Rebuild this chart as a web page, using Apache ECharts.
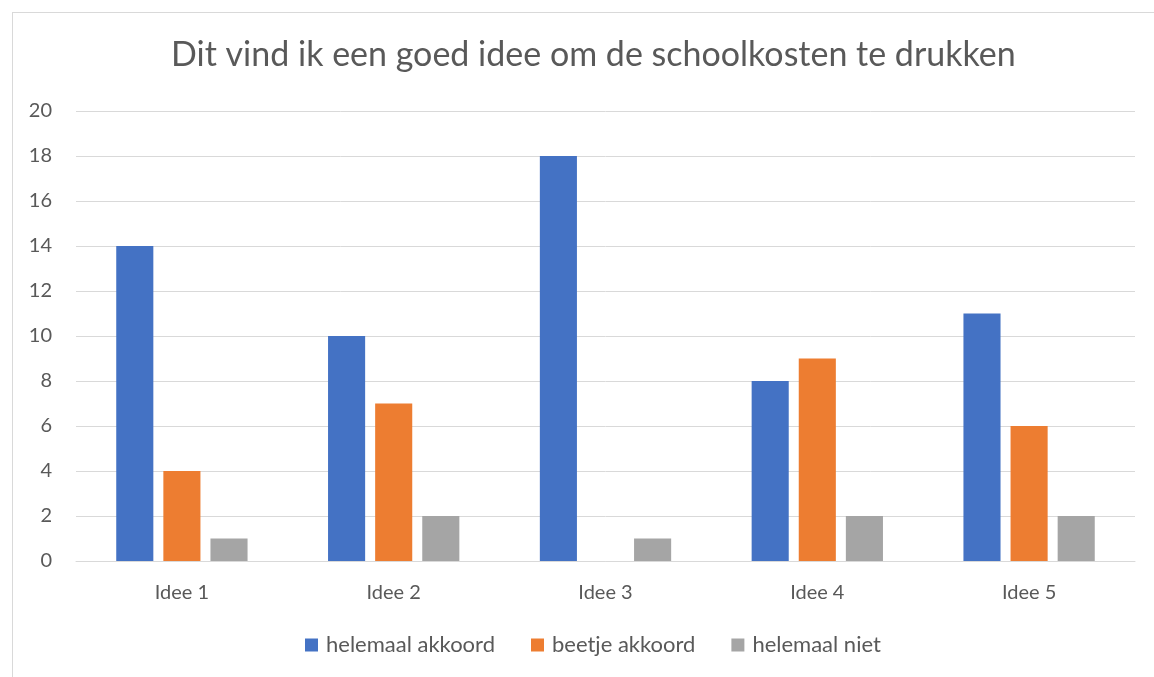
<!DOCTYPE html>
<html>
<head>
<meta charset="utf-8">
<script src="https://cdn.jsdelivr.net/npm/echarts@6/dist/echarts.min.js"></script>
<style>
  html, body { margin: 0; padding: 0; background: #fff; }
  #frame { position: absolute; left: 12px; top: 12px; width: 1160px; height: 700px; border-left: 1px solid #d9d9d9; border-top: 1px solid #d9d9d9; }
  #chart { position: absolute; left: 0; top: 0; width: 1154px; height: 677px; }
</style>
</head>
<body>
<div id="frame"></div>
<div id="chart"></div>
<script>
const categories = ["Idee 1", "Idee 2", "Idee 3", "Idee 4", "Idee 5"];
const helemaalAkkoord = [14, 10, 18, 8, 11];
const beetjeAkkoord = [4, 7, 0, 9, 6];
const helemaalNiet = [1, 2, 1, 2, 2];

const font = "Lato, 'Noto Sans', sans-serif";
const textColor = "#595959";

const myChart = echarts.init(document.getElementById("chart"));

const makeSeries = (name, data, color) => ({
  name: name,
  type: "bar",
  data: data,
  barGap: "27%",
  barCategoryGap: "38%",
  itemStyle: { color: color },
});

myChart.setOption({
  animation: false,
  title: {
    text: "Dit vind ik een goed idee om de schoolkosten te drukken",
    left: 166,
    top: 33,
    textStyle: { fontFamily: font, fontSize: 34, fontWeight: "normal", color: textColor },
  },
  legend: {
    bottom: 16,
    left: 300,
    itemWidth: 13,
    itemHeight: 13,
    itemGap: 36,
    icon: "rect",
    textStyle: { fontFamily: font, fontSize: 22, color: textColor, padding: [0, 0, 0, 3] },
  },
  grid: { left: 76, right: 19, top: 111, bottom: 116, containLabel: false },
  xAxis: {
    type: "category",
    data: categories,
    axisLine: { lineStyle: { color: "#d9d9d9", width: 1 } },
    axisTick: { show: false },
    axisLabel: { fontFamily: font, fontSize: 20, color: textColor, margin: 22 },
  },
  yAxis: {
    type: "value",
    min: 0,
    max: 20,
    interval: 2,
    axisLine: { show: false },
    axisTick: { show: false },
    axisLabel: { fontFamily: font, fontSize: 20, color: textColor, margin: 24 },
    splitLine: { lineStyle: { color: "#d9d9d9", width: 1 } },
  },
  series: [
    makeSeries("helemaal akkoord", helemaalAkkoord, "#4472c4"),
    makeSeries("beetje akkoord", beetjeAkkoord, "#ed7d31"),
    makeSeries("helemaal niet", helemaalNiet, "#a5a5a5"),
  ],
});
</script>
</body>
</html>
